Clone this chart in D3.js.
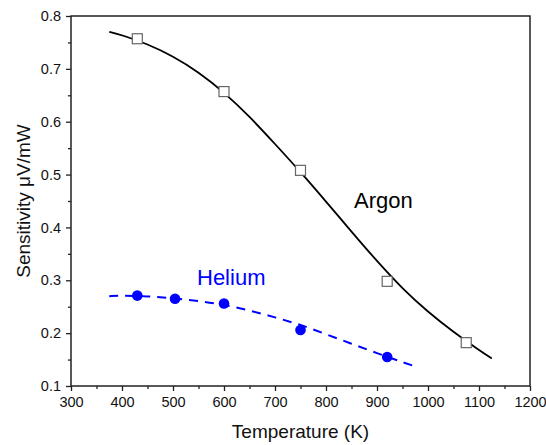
<!DOCTYPE html>
<html>
<head>
<meta charset="utf-8">
<script src="https://cdn.jsdelivr.net/npm/d3@7"></script>
<style>
  html, body { margin: 0; padding: 0; background: #fff; }
  svg { display: block; font-family: "Liberation Sans", Arial, sans-serif; }
</style>
</head>
<body>
<svg id="chart" width="546" height="445"></svg>
<script>
// Measured sensitivity (µV/mW) vs temperature (K)
const argonT = [430, 600, 750, 920, 1075];
const argonS = [0.757, 0.657, 0.508, 0.298, 0.182];
const heliumT = [430, 504, 600, 750, 920];
const heliumS = [0.271, 0.265, 0.256, 0.206, 0.155];

// Fitted trend curves
const argonFitT = [375, 400, 450, 500, 550, 600, 650, 700, 750, 800, 850, 900, 950, 1000, 1050, 1100, 1125];
const argonFitS = [0.770, 0.764, 0.747, 0.724, 0.694, 0.656, 0.610, 0.558, 0.505, 0.449, 0.392, 0.336, 0.284, 0.240, 0.202, 0.168, 0.152];
const heliumFitT = [375, 400, 450, 500, 550, 600, 650, 700, 750, 800, 850, 900, 950, 975];
const heliumFitS = [0.270, 0.271, 0.270, 0.266, 0.261, 0.254, 0.243, 0.230, 0.216, 0.198, 0.180, 0.162, 0.145, 0.137];

const xTicks = [300, 400, 500, 600, 700, 800, 900, 1000, 1100, 1200];
const yTicks = [0.1, 0.2, 0.3, 0.4, 0.5, 0.6, 0.7, 0.8];

const svg = d3.select("#chart");
const m = { left: 71, right: 530, top: 16, bottom: 386 };

const x = d3.scaleLinear().domain([300, 1200]).range([m.left, m.right]);
const y = d3.scaleLinear().domain([0.1, 0.8]).range([m.bottom, m.top]);

const axisColor = "#222";

// Minor ticks halfway between the labelled ones
const xMinor = d3.range(350, 1200, 100);
const yMinor = d3.range(0.15, 0.8, 0.1);

const gx = svg.append("g").attr("transform", `translate(0,${m.bottom})`)
  .call(d3.axisBottom(x).tickValues(xTicks).tickFormat(d3.format("d")).tickSize(5).tickPadding(6));
const gxm = svg.append("g").attr("transform", `translate(0,${m.bottom})`)
  .call(d3.axisBottom(x).tickValues(xMinor).tickFormat("").tickSize(3));
const gy = svg.append("g").attr("transform", `translate(${m.left},0)`)
  .call(d3.axisLeft(y).tickValues(yTicks).tickFormat(d3.format(".1f")).tickSize(5).tickPadding(5));
const gym = svg.append("g").attr("transform", `translate(${m.left},0)`)
  .call(d3.axisLeft(y).tickValues(yMinor).tickFormat("").tickSize(3));

[gx, gxm, gy, gym].forEach(g => {
  g.select(".domain").remove();
  g.selectAll("line").attr("stroke", axisColor).attr("stroke-width", 1.3);
  g.selectAll("text").attr("fill", "#111").style("font-size", "14.5px")
    .style("font-family", "'Liberation Sans', Arial, sans-serif");
});

// Frame
svg.append("rect")
  .attr("x", m.left).attr("y", m.top)
  .attr("width", m.right - m.left).attr("height", m.bottom - m.top)
  .attr("fill", "none").attr("stroke", axisColor).attr("stroke-width", 1.5);

const line = d3.line().x(d => x(d[0])).y(d => y(d[1])).curve(d3.curveBasis);

// Argon fit
svg.append("path")
  .datum(argonFitT.map((t, i) => [t, argonFitS[i]]))
  .attr("d", line).attr("fill", "none").attr("stroke", "#000").attr("stroke-width", 1.8);

// Helium fit
svg.append("path")
  .datum(heliumFitT.map((t, i) => [t, heliumFitS[i]]))
  .attr("d", line).attr("fill", "none").attr("stroke", "#0000ff").attr("stroke-width", 2)
  .attr("stroke-dasharray", "9,7");

// Argon markers
const sq = 10;
svg.append("g").selectAll("rect")
  .data(argonT.map((t, i) => [t, argonS[i]]))
  .join("rect")
  .attr("x", d => x(d[0]) - sq / 2).attr("y", d => y(d[1]) - sq / 2)
  .attr("width", sq).attr("height", sq)
  .attr("fill", "#fff").attr("stroke", "#666").attr("stroke-width", 1.2);

// Helium markers
svg.append("g").selectAll("circle")
  .data(heliumT.map((t, i) => [t, heliumS[i]]))
  .join("circle")
  .attr("cx", d => x(d[0])).attr("cy", d => y(d[1])).attr("r", 5.3)
  .attr("fill", "#0000ff");

// Series labels
svg.append("text").attr("x", 354).attr("y", 208).text("Argon")
  .style("font-size", "22px").attr("fill", "#000");
svg.append("text").attr("x", 197).attr("y", 285).text("Helium")
  .style("font-size", "22px").attr("fill", "#0000ff");

// Axis titles
svg.append("text").attr("x", (m.left + m.right) / 2).attr("y", 438)
  .attr("text-anchor", "middle").style("font-size", "19px").attr("fill", "#111")
  .text("Temperature (K)");
svg.append("text")
  .attr("transform", `translate(30,${(m.top + m.bottom) / 2}) rotate(-90)`)
  .attr("text-anchor", "middle").style("font-size", "19px").attr("fill", "#111")
  .text("Sensitivity μV/mW");
</script>
</body>
</html>
